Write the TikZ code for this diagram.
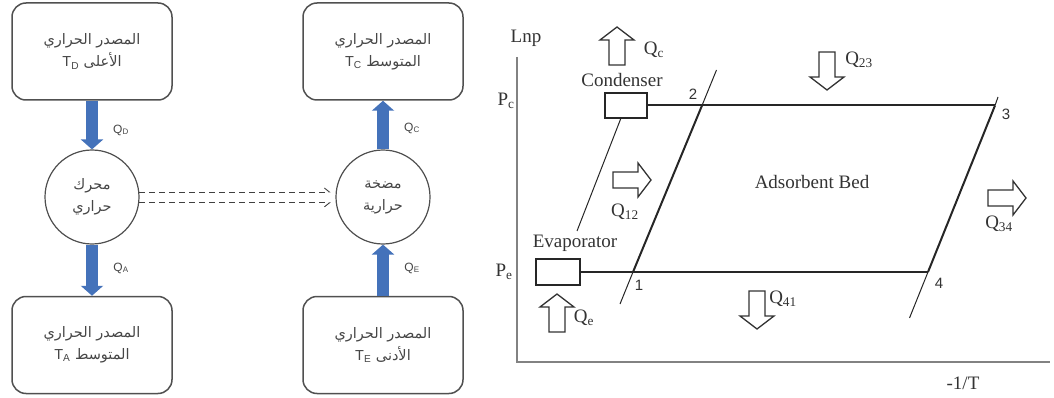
\documentclass[tikz,border=0pt]{standalone}
\usepackage{fontspec}
\setmainfont{Liberation Serif}
\newfontfamily\arabicfont[Script=Arabic]{DejaVu Sans}
\newfontfamily\lsans{Liberation Sans}
\TeXXeTstate=1
\usetikzlibrary{arrows.meta}
\definecolor{qblue}{RGB}{68,114,186}
\definecolor{boxgray}{RGB}{80,80,80}
\definecolor{txtgray}{RGB}{70,70,70}
\definecolor{axisgray}{RGB}{130,130,130}
\newcommand\artxt[1]{{\arabicfont\beginR #1\endR}}
\newcommand\latsub[2]{{\lsans #1\textsubscript{#2}}}
\begin{document}
\begin{tikzpicture}[x=1pt,y=-1pt,
  srcbox/.style={draw=boxgray, line width=1.5pt, rounded corners=14pt,
    minimum width=160pt, minimum height=97pt, align=center,
    font=\fontsize{14.5}{22}\selectfont, text=txtgray, inner sep=0pt},
  machine/.style={draw=boxgray, line width=1.2pt, circle, minimum size=94pt,
    align=center, font=\fontsize{14.5}{22}\selectfont, text=txtgray, inner sep=0pt},
  qarrow/.style={draw=qblue, line width=12pt, -{Triangle[width=22pt,length=10pt]}},
  qlabel/.style={font=\lsans\fontsize{12}{14}\selectfont, text=txtgray},
  workline/.style={draw=black!75, line width=0.9pt, dashed, dash pattern=on 6pt off 4pt},
  axisline/.style={draw=axisgray, line width=1.8pt},
  cycleline/.style={draw=black!85, line width=2pt},
  thinline/.style={draw=black!85, line width=1pt},
  dtext/.style={font=\fontsize{19}{22}\selectfont, text=black!80},
  ntext/.style={font=\lsans\fontsize{15}{17}\selectfont, text=black!80},
  unitbox/.style={draw=black!85, line width=1.6pt, inner sep=0pt},
  hollow/.pic={\draw[line width=1.3pt, draw=black!80, fill=white, line join=miter]
    (0,-8) -- (25,-8) -- (25,-17) -- (38,0) -- (25,17) -- (25,8) -- (0,8) -- cycle;}
]
\useasboundingbox (0,0) rectangle (1054,398);

% ---------- left part ----------
\node[srcbox] (tdbox) at (92,51.5) {\artxt{المصدر الحراري}\\\artxt{الأعلى \beginL\latsub{T}{D}\endL}};
\node[srcbox] (tcbox) at (383,51.5) {\artxt{المصدر الحراري}\\\artxt{المتوسط \beginL\latsub{T}{C}\endL}};
\node[srcbox] (tabox) at (92,345) {\artxt{المصدر الحراري}\\\artxt{المتوسط \beginL\latsub{T}{A}\endL}};
\node[srcbox] (tebox) at (383,345) {\artxt{المصدر الحراري}\\\artxt{الأدنى \beginL\latsub{T}{E}\endL}};

\node[machine] (eng) at (92,197) {\artxt{محرك}\\\artxt{حراري}};
\node[machine] (pump) at (383,197) {\artxt{مضخة}\\\artxt{حرارية}};

\draw[qarrow] (tdbox.south) -- (eng.north);
\draw[qarrow] (eng.south) -- (tabox.north);
\draw[qarrow] (pump.north) -- (tcbox.south);
\draw[qarrow] (tebox.north) -- (pump.south);

\node[qlabel] (qd) at (121,130) {Q\textsubscript{D}};
\node[qlabel] (qa) at (121,268) {Q\textsubscript{A}};
\node[qlabel] (qcl) at (412,128) {Q\textsubscript{C}};
\node[qlabel] (qel) at (412,268) {Q\textsubscript{E}};

\draw[workline, -{Straight Barb[left,length=5pt,width=8pt]}, shorten >=5pt] (eng.6) -- (pump.174);
\draw[workline, -{Straight Barb[right,length=5pt,width=8pt]}, shorten >=5pt] (eng.-7) -- (pump.187);

% ---------- right part ----------
\coordinate (ytop) at (517,57);
\coordinate (orig) at (517,362);
\coordinate (xend) at (1050,362);
\draw[axisline] (ytop) -- (orig) -- (xend);
\node[dtext] (lnp) at (526,38) {Lnp};
\node[dtext] (pc) at (506,101) {P\textsubscript{c}};
\node[dtext] (pe) at (504,272) {P\textsubscript{e}};
\node[dtext] (invt) at (963,383) {-1/T};

\node[unitbox, minimum width=42pt, minimum height=25pt] (cond) at (626,105.5) {};
\node[unitbox, minimum width=44pt, minimum height=26pt] (evap) at (558,272) {};
\node[dtext] (condlbl) at (622,80) {Condenser};
\node[dtext] (evaplbl) at (575,243) {Evaporator};
\node[dtext] (bedlbl) at (812,182) {Adsorbent Bed};

\coordinate (p1) at (633,272);
\coordinate (p2) at (702,105.5);
\coordinate (p3) at (995,105.5);
\coordinate (p4) at (928,272);
\coordinate (e2) at (716.5,70);
\coordinate (e1) at (620,304);
\coordinate (e3) at (998,97);
\coordinate (e4) at (909.5,318);
\coordinate (lowend) at (577,231);
\coordinate (condbot) at (621,118);

\draw[cycleline] (cond.east) -- (p2) -- (p3);
\draw[cycleline] (evap.east) -- (p1) -- (p4);
\draw[cycleline] (p1) -- (p2);
\draw[cycleline] (p4) -- (p3);
\draw[thinline] (p2) -- (e2);
\draw[thinline] (p1) -- (e1);
\draw[thinline] (p3) -- (e3);
\draw[thinline] (p4) -- (e4);
\draw[thinline] (condbot) -- (lowend);

\node[ntext] (n1) at (639,285) {1};
\node[ntext] (n2) at (693,94) {2};
\node[ntext] (n3) at (1006,114) {3};
\node[ntext] (n4) at (939,283) {4};

\pic[rotate=90] at (617,65) {hollow};
\pic[rotate=90] at (557,332) {hollow};
\pic[rotate=-90] at (757,291) {hollow};
\pic[rotate=-90] at (827,52) {hollow};
\pic at (613,180) {hollow};
\pic at (988,198) {hollow};

\node[dtext] (qc) at (654,50) {Q\textsubscript{c}};
\node[dtext] (qe) at (584,318) {Q\textsubscript{e}};
\node[dtext] (q41) at (783,299) {Q\textsubscript{41}};
\node[dtext] (q23) at (859,60) {Q\textsubscript{23}};
\node[dtext] (q12) at (625,212) {Q\textsubscript{12}};
\node[dtext] (q34) at (999,224) {Q\textsubscript{34}};
\end{tikzpicture}
\end{document}
